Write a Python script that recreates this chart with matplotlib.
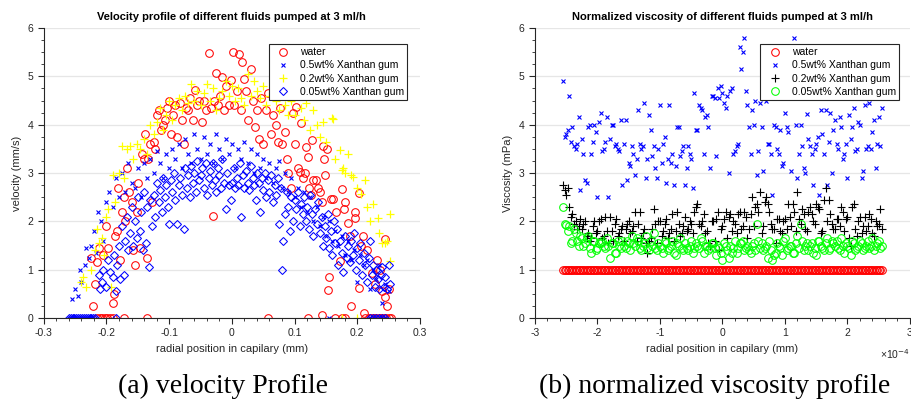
import numpy as np
import matplotlib.pyplot as plt
from matplotlib.ticker import MultipleLocator, FuncFormatter

plt.rcParams['font.family'] = ['Liberation Sans', 'DejaVu Sans']

# ---- (a) velocity profile: (radial position mm, velocity mm/s) ----
water_v = [
    (-0.215, 0), (-0.211, 0), (-0.207, 0), (-0.203, 0), (-0.199, 0), (-0.195, 0), (-0.19, 0),
    (-0.172, 0), (-0.135, 0), (0.058, 0), (0.122, 0), (0.165, 0), (0.175, 0), (0.18, 0),
    (0.213, 0), (0.218, 0), (0.222, 0), (0.226, 0), (0.23, 0), (0.234, 0), (0.238, 0),
    (0.242, 0), (0.246, 0), (0.25, 0), (0.253, 0), (0.144, 0.07),
    (-0.222, 0.25), (-0.224, 1.25), (-0.218, 0.7), (-0.215, 1.15), (-0.212, 1.45), (-0.205, 1.3),
    (-0.2, 1.9), (-0.198, 1.45), (-0.19, 0.3), (-0.188, 0.5), (-0.186, 1.7), (-0.183, 1.8),
    (-0.182, 2.7), (-0.178, 1.2), (-0.176, 2.2), (-0.172, 2.5), (-0.17, 2.0), (-0.168, 3.1),
    (-0.164, 2.6), (-0.16, 2.4), (-0.157, 1.4), (-0.155, 1.1), (-0.152, 2.2), (-0.15, 2.8),
    (-0.146, 1.45), (-0.143, 3.4), (-0.14, 3.3), (-0.138, 3.8), (-0.135, 1.25), (-0.133, 3.3),
    (-0.13, 3.6), (-0.127, 2.4), (-0.125, 3.65), (-0.122, 3.5), (-0.12, 4.2), (-0.117, 4.3),
    (-0.113, 3.9), (-0.11, 4.0), (-0.107, 4.1), (-0.104, 4.35), (-0.1, 4.5), (-0.097, 3.8),
    (-0.094, 4.2), (-0.09, 4.4), (-0.087, 3.75), (-0.083, 4.45), (-0.08, 4.1), (-0.076, 3.6),
    (-0.073, 4.35), (-0.07, 4.3), (-0.066, 4.55), (-0.062, 4.1), (-0.059, 4.72), (-0.055, 4.4),
    (-0.052, 4.5), (-0.048, 4.05), (-0.045, 4.5), (-0.041, 4.3), (-0.037, 5.48), (-0.034, 4.35),
    (-0.03, 2.12), (-0.028, 4.5), (-0.026, 5.07), (-0.022, 4.4), (-0.019, 4.6), (-0.016, 4.98),
    (-0.013, 4.3), (-0.009, 4.8), (-0.005, 4.4), (-0.002, 4.93), (0.001, 5.5), (0.004, 4.4),
    (0.008, 4.7), (0.011, 5.46), (0.014, 4.3), (0.016, 5.3), (0.019, 4.95), (0.022, 4.7),
    (0.026, 4.1), (0.03, 5.15), (0.033, 4.5), (0.037, 3.95), (0.04, 4.3), (0.043, 3.7),
    (0.046, 4.55), (0.05, 3.6), (0.054, 4.3), (0.058, 4.65), (0.062, 3.8), (0.066, 4.2),
    (0.07, 4.0), (0.073, 3.65), (0.077, 4.35), (0.08, 3.6), (0.084, 3.85), (0.088, 3.3),
    (0.09, 3.0), (0.094, 2.7), (0.097, 4.24), (0.1, 3.6), (0.103, 4.36), (0.106, 3.1),
    (0.108, 3.02), (0.111, 4.03), (0.113, 2.9), (0.116, 3.0), (0.119, 3.54), (0.121, 3.33),
    (0.123, 2.7), (0.126, 2.55), (0.128, 3.68), (0.13, 2.85), (0.134, 2.86), (0.137, 2.69),
    (0.14, 2.6), (0.143, 2.4), (0.145, 3.56), (0.147, 3.3), (0.148, 2.96), (0.151, 3.5),
    (0.153, 0.58), (0.155, 0.85), (0.158, 2.46), (0.162, 2.46), (0.166, 2.2), (0.172, 1.18),
    (0.175, 2.67), (0.179, 2.25), (0.18, 2.4), (0.185, 1.96), (0.188, 1.7), (0.19, 0.25),
    (0.196, 2.19), (0.197, 2.06), (0.202, 2.58), (0.202, 0.62), (0.206, 1.5), (0.209, 1.7),
    (0.21, 0.1), (0.215, 1.4), (0.223, 0.93), (0.228, 0.7), (0.232, 1.2), (0.236, 1.0),
    (0.24, 0.55), (0.244, 1.63), (0.245, 0.44), (0.247, 0.25), (0.25, 0.6),
]

xg05_v = [
    (-0.26, 0), (-0.257, 0), (-0.254, 0), (-0.251, 0), (-0.248, 0), (-0.245, 0), (-0.242, 0),
    (-0.239, 0), (-0.236, 0), (-0.233, 0), (-0.23, 0), (-0.227, 0), (-0.224, 0), (0.155, 0),
    (0.22, 0), (0.228, 0), (0.236, 0), (0.244, 0),
    (-0.255, 0.4), (-0.25, 0.6), (-0.245, 0.45), (-0.243, 1.0), (-0.24, 0.75), (-0.235, 1.1),
    (-0.232, 1.45), (-0.228, 1.25), (-0.225, 1.5), (-0.22, 1.8), (-0.216, 1.35), (-0.213, 2.2),
    (-0.208, 2.0), (-0.205, 1.6), (-0.2, 2.4), (-0.196, 2.6), (-0.19, 2.3), (-0.185, 2.9),
    (-0.18, 2.5), (-0.175, 3.0), (-0.17, 2.6), (-0.165, 3.2), (-0.16, 2.8), (-0.155, 2.7),
    (-0.15, 3.1), (-0.145, 2.5), (-0.14, 3.2), (-0.135, 2.9), (-0.13, 3.3), (-0.125, 3.0),
    (-0.12, 3.45), (-0.115, 3.2), (-0.11, 2.9), (-0.105, 3.4), (-0.1, 3.1), (-0.095, 3.5),
    (-0.09, 3.3), (-0.085, 3.6), (-0.08, 3.1), (-0.075, 3.7), (-0.07, 3.4), (-0.065, 3.2),
    (-0.06, 3.8), (-0.055, 3.5), (-0.05, 3.3), (-0.045, 3.75), (-0.04, 3.4), (-0.035, 3.6),
    (-0.03, 3.2), (-0.025, 3.8), (-0.02, 3.5), (-0.015, 3.3), (-0.01, 3.7), (-0.005, 3.4),
    (0.0, 3.6), (0.005, 3.1), (0.01, 3.5), (0.015, 3.3), (0.02, 3.65), (0.025, 3.2),
    (0.03, 3.5), (0.035, 3.0), (0.04, 3.4), (0.045, 3.1), (0.05, 3.3), (0.055, 2.9),
    (0.06, 3.2), (0.065, 2.8), (0.07, 3.1), (0.075, 3.25), (0.08, 2.7), (0.085, 3.0),
    (0.09, 2.6), (0.095, 2.9), (0.1, 2.5), (0.105, 2.7), (0.11, 2.3), (0.115, 2.6),
    (0.12, 2.2), (0.125, 2.5), (0.13, 2.0), (0.135, 2.3), (0.14, 1.9), (0.145, 2.1),
    (0.15, 1.7), (0.155, 2.0), (0.16, 1.6), (0.165, 1.8), (0.17, 1.5), (0.175, 1.7),
    (0.18, 1.3), (0.185, 1.6), (0.19, 1.2), (0.195, 1.4), (0.2, 0.75), (0.205, 1.3),
    (0.21, 1.1), (0.215, 1.2), (0.22, 0.6), (0.225, 1.0), (0.23, 0.8), (0.235, 1.1),
    (0.24, 0.3), (0.245, 0.7), (0.25, 0.55),
]

xg02_v = [
    (-0.24, 0.75), (-0.237, 0.85), (-0.232, 0.65), (-0.225, 1.0), (-0.218, 1.4), (-0.215, 1.85),
    (-0.212, 1.55), (-0.207, 1.65), (-0.204, 1.3), (-0.2, 2.1), (-0.197, 2.25), (-0.193, 0.65),
    (-0.19, 2.95), (-0.186, 2.4), (-0.18, 3.0), (-0.176, 3.55), (-0.172, 2.9), (-0.168, 3.5),
    (-0.163, 3.55), (-0.158, 3.3), (-0.152, 3.6), (-0.146, 3.5), (-0.14, 3.7), (-0.135, 3.4),
    (-0.13, 4.0), (-0.125, 3.8), (-0.12, 4.05), (-0.115, 4.35), (-0.11, 3.9), (-0.105, 4.2),
    (-0.1, 4.5), (-0.095, 4.1), (-0.09, 4.4), (-0.085, 4.55), (-0.08, 4.3), (-0.075, 4.6),
    (-0.07, 4.45), (-0.065, 4.85), (-0.06, 4.5), (-0.055, 4.7), (-0.05, 4.4), (-0.045, 4.65),
    (-0.04, 4.85), (-0.035, 4.5), (-0.03, 4.75), (-0.025, 4.3), (-0.02, 4.55), (-0.015, 4.7),
    (-0.01, 4.9), (-0.005, 4.6), (0.0, 4.8), (0.005, 4.5), (0.01, 4.75), (0.015, 4.55),
    (0.02, 4.4), (0.025, 5.05), (0.03, 4.6), (0.035, 4.9), (0.04, 4.7), (0.045, 4.55),
    (0.05, 4.8), (0.055, 4.4), (0.06, 4.6), (0.065, 4.75), (0.07, 4.5), (0.075, 4.3),
    (0.08, 4.6), (0.085, 4.4), (0.09, 4.2), (0.095, 4.5), (0.1, 4.2), (0.105, 4.7),
    (0.11, 4.35), (0.115, 4.1), (0.119, 4.44), (0.125, 3.9), (0.13, 4.3), (0.135, 4.0),
    (0.14, 3.75), (0.145, 4.05), (0.15, 3.65), (0.159, 4.13), (0.161, 4.12), (0.165, 3.3),
    (0.172, 3.48), (0.175, 3.06), (0.177, 3.1), (0.18, 3.0), (0.185, 3.4), (0.19, 2.95),
    (0.193, 2.91), (0.2, 2.7), (0.206, 2.57), (0.212, 2.86), (0.215, 2.3), (0.22, 2.0),
    (0.225, 2.35), (0.233, 2.06), (0.235, 1.75), (0.24, 1.55), (0.244, 1.55), (0.252, 2.15),
    (0.252, 1.18), (0.248, 1.6), (0.2, 0.0), (0.175, 0.0),
]

xg005_v = [
    (-0.26, 0), (-0.257, 0), (-0.254, 0), (-0.251, 0), (-0.248, 0), (-0.245, 0), (-0.242, 0),
    (-0.239, 0), (-0.236, 0), (-0.233, 0), (-0.23, 0), (-0.227, 0), (-0.224, 0), (-0.221, 0),
    (-0.218, 0), (-0.185, 0), (0.22, 0), (0.225, 0), (0.23, 0), (0.235, 0), (0.24, 0), (0.245, 0),
    (-0.212, 0.9), (-0.21, 0.6), (-0.207, 0.75), (-0.205, 1.0), (-0.2, 0.65), (-0.198, 1.2),
    (-0.195, 0.95), (-0.19, 0.85), (-0.188, 1.3), (-0.185, 0.55), (-0.183, 1.1), (-0.18, 1.5),
    (-0.178, 0.8), (-0.175, 1.9), (-0.172, 0.9), (-0.17, 1.6), (-0.167, 2.1), (-0.165, 1.4),
    (-0.162, 1.75), (-0.16, 2.3), (-0.157, 1.5), (-0.155, 2.0), (-0.152, 1.65), (-0.15, 2.5),
    (-0.147, 1.8), (-0.145, 2.2), (-0.142, 1.4), (-0.14, 2.6), (-0.137, 1.55), (-0.135, 2.3),
    (-0.132, 1.05), (-0.13, 2.45), (-0.127, 1.9), (-0.125, 2.55), (-0.122, 2.1), (-0.12, 2.8),
    (-0.117, 2.4), (-0.115, 2.65), (-0.112, 2.2), (-0.11, 2.9), (-0.107, 2.5), (-0.105, 2.75),
    (-0.102, 2.3), (-0.1, 1.95), (-0.097, 2.85), (-0.095, 2.6), (-0.092, 3.0), (-0.09, 2.45),
    (-0.087, 1.95), (-0.085, 2.75), (-0.082, 2.9), (-0.08, 2.55), (-0.077, 1.85), (-0.075, 3.1),
    (-0.072, 2.7), (-0.07, 2.95), (-0.067, 2.5), (-0.065, 3.15), (-0.062, 2.8), (-0.06, 3.0),
    (-0.057, 2.6), (-0.055, 3.25), (-0.052, 2.85), (-0.05, 2.95), (-0.047, 3.1), (-0.045, 2.7),
    (-0.042, 3.2), (-0.04, 2.55), (-0.037, 2.9), (-0.035, 3.05), (-0.032, 2.75), (-0.03, 3.2),
    (-0.027, 2.85), (-0.025, 2.6), (-0.022, 3.1), (-0.02, 2.95), (-0.017, 2.7), (-0.015, 3.3),
    (-0.012, 2.8), (-0.01, 2.25), (-0.007, 3.0), (-0.005, 2.75), (-0.002, 2.45), (0.0, 2.8),
    (0.003, 3.1), (0.005, 2.7), (0.008, 2.9), (0.01, 2.75), (0.013, 3.2), (0.015, 2.08),
    (0.018, 2.95), (0.02, 2.7), (0.023, 3.05), (0.025, 2.8), (0.028, 2.65), (0.03, 3.15),
    (0.033, 2.9), (0.035, 2.75), (0.038, 2.45), (0.04, 3.0), (0.043, 2.8), (0.045, 2.2),
    (0.048, 2.9), (0.05, 2.65), (0.053, 3.0), (0.055, 2.5), (0.058, 2.85), (0.06, 2.6),
    (0.063, 2.95), (0.065, 2.4), (0.068, 2.75), (0.07, 2.55), (0.073, 2.9), (0.075, 1.95),
    (0.078, 2.7), (0.08, 1.0), (0.082, 1.6), (0.085, 2.15), (0.088, 2.6), (0.09, 2.3),
    (0.093, 1.8), (0.095, 2.5), (0.098, 2.0), (0.1, 2.45), (0.103, 2.25), (0.105, 2.6),
    (0.108, 1.9), (0.11, 2.35), (0.113, 2.15), (0.115, 2.5), (0.118, 2.0), (0.12, 2.3),
    (0.123, 1.85), (0.125, 2.55), (0.128, 2.15), (0.13, 1.7), (0.133, 2.25), (0.135, 1.95),
    (0.138, 2.4), (0.14, 1.75), (0.143, 2.1), (0.145, 1.5), (0.148, 1.9), (0.15, 1.65),
    (0.153, 2.15), (0.155, 1.45), (0.158, 1.8), (0.16, 1.3), (0.163, 2.0), (0.165, 1.55),
    (0.168, 1.85), (0.17, 1.1), (0.173, 1.6), (0.175, 1.35), (0.178, 0.95), (0.18, 1.7),
    (0.183, 1.25), (0.185, 1.5), (0.188, 1.15), (0.19, 1.6), (0.193, 1.3), (0.195, 1.75),
    (0.198, 1.0), (0.2, 1.45), (0.203, 1.2), (0.205, 1.55), (0.208, 0.9), (0.21, 1.35),
    (0.213, 1.1), (0.215, 0.75), (0.218, 1.25), (0.22, 1.6), (0.223, 0.9), (0.225, 1.1),
    (0.228, 0.65), (0.23, 1.0), (0.233, 0.8), (0.235, 0.6), (0.238, 0.9), (0.24, 1.05),
    (0.243, 0.65), (0.245, 0.85), (0.248, 0.6), (0.25, 1.1), (0.252, 0.7),
]

# ---- (b) normalized viscosity: radial position in units of 1e-4 mm ----
# two interleaved sampling grids
r_b = [
    -2.55, -2.50, -2.45, -2.40, -2.35, -2.30, -2.25, -2.20, -2.15, -2.10,
    -2.05, -2.00, -1.95, -1.90, -1.85, -1.80, -1.75, -1.70, -1.65, -1.60,
    -1.55, -1.50, -1.45, -1.40, -1.35, -1.30, -1.25, -1.20, -1.15, -1.10,
    -1.05, -1.00, -0.95, -0.90, -0.85, -0.80, -0.75, -0.70, -0.65, -0.60,
    -0.55, -0.50, -0.45, -0.40, -0.35, -0.30, -0.25, -0.20, -0.15, -0.10,
    -0.05, 0.00, 0.05, 0.10, 0.15, 0.20, 0.25, 0.30, 0.35, 0.40,
    0.45, 0.50, 0.55, 0.60, 0.65, 0.70, 0.75, 0.80, 0.85, 0.90,
    0.95, 1.00, 1.05, 1.10, 1.15, 1.20, 1.25, 1.30, 1.35, 1.40,
    1.45, 1.50, 1.55, 1.60, 1.65, 1.70, 1.75, 1.80, 1.85, 1.90,
    1.95, 2.00, 2.05, 2.10, 2.15, 2.20, 2.25, 2.30, 2.35, 2.40,
    2.45, 2.50, 2.55,
]
r_b2 = [
    -2.525, -2.475, -2.425, -2.375, -2.325, -2.275, -2.225, -2.175, -2.125, -2.075,
    -2.025, -1.975, -1.925, -1.875, -1.825, -1.775, -1.725, -1.675, -1.625, -1.575,
    -1.525, -1.475, -1.425, -1.375, -1.325, -1.275, -1.225, -1.175, -1.125, -1.075,
    -1.025, -0.975, -0.925, -0.875, -0.825, -0.775, -0.725, -0.675, -0.625, -0.575,
    -0.525, -0.475, -0.425, -0.375, -0.325, -0.275, -0.225, -0.175, -0.125, -0.075,
    -0.025, 0.025, 0.075, 0.125, 0.175, 0.225, 0.275, 0.325, 0.375, 0.425,
    0.475, 0.525, 0.575, 0.625, 0.675, 0.725, 0.775, 0.825, 0.875, 0.925,
    0.975, 1.025, 1.075, 1.125, 1.175, 1.225, 1.275, 1.325, 1.375, 1.425,
    1.475, 1.525, 1.575, 1.625, 1.675, 1.725, 1.775, 1.825, 1.875, 1.925,
    1.975, 2.025, 2.075, 2.125, 2.175, 2.225, 2.275, 2.325, 2.375, 2.425,
    2.475, 2.525,
]
visc_water = [1.0] * len(r_b)
visc_water2 = [1.0] * len(r_b2)
visc_05 = [
    4.9, 3.8, 4.6, 3.95, 3.5, 4.15, 3.7, 2.85, 3.95, 3.4,
    4.0, 2.5, 4.25, 3.5, 4.15, 3.7, 4.0, 3.6, 3.45, 2.75,
    4.1, 3.2, 3.55, 2.95, 4.3, 3.5, 4.45, 3.3, 3.9, 3.55,
    2.9, 4.4, 3.6, 2.8, 4.4, 3.4, 3.15, 3.95, 3.45, 2.75,
    3.55, 3.3, 4.65, 3.9, 4.35, 3.4, 4.2, 3.1, 4.6, 3.35,
    4.55, 4.65, 4.35, 3.0, 4.75, 3.45, 3.6, 5.15, 5.8, 4.4,
    3.4, 4.0, 2.95, 4.45, 3.05, 4.5, 3.6, 2.55, 3.95, 3.4,
    3.15, 4.25, 3.85, 3.05, 5.8, 2.9, 4.0, 3.1, 4.22, 3.55,
    2.75, 3.6, 2.55, 3.8, 4.3, 3.65, 3.0, 4.1, 3.5, 3.95,
    3.4, 2.9, 3.7, 4.35, 3.5, 4.0, 3.05, 3.5, 4.45, 3.85,
    3.1, 4.15, 4.35,
]
visc_05b = [
    3.75, 3.9, 3.65, 3.55, 3.6, 2.65, 3.4, 2.8, 4.0, 3.65,
    3.85, 4.05, 3.45, 3.65, 2.5, 4.0, 3.55, 3.5, 4.1, 3.6,
    2.85, 3.15, 3.4, 3.3, 3.6, 3.55, 2.9, 4.2, 3.35, 3.1,
    3.5, 3.2, 3.75, 3.3, 3.2, 2.75, 3.95, 3.35, 3.55, 3.1,
    3.4, 2.7, 3.9, 4.4, 4.3, 4.15, 3.95, 4.6, 4.55, 4.75,
    4.8, 4.45, 4.6, 4.7, 3.4, 3.55, 5.6, 5.5, 4.7, 3.95,
    4.3, 4.5, 3.45, 3.95, 4.6, 3.6, 3.4, 4.0, 3.5, 3.9,
    3.2, 3.95, 4.6, 4.8, 4.0, 3.4, 3.55, 3.0, 3.7, 3.4,
    3.5, 3.75, 4.3, 3.4, 2.75, 4.25, 3.9, 3.6, 4.15, 3.3,
    3.6, 4.2, 3.95, 3.45, 4.05, 2.9, 4.4, 3.55, 3.5, 4.1,
    3.6, 3.55,
]
visc_02 = [
    2.75, 2.55, 2.3, 2.15, 2.0, 1.9, 1.85, 2.0, 1.75, 1.65,
    2.0, 1.8, 2.05, 1.7, 1.8, 2.1, 1.6, 2.05, 1.75, 1.9,
    1.85, 2.0, 1.8, 2.2, 1.95, 1.65, 1.85, 1.35, 1.65, 2.25,
    1.55, 2.0, 1.8, 2.05, 1.75, 2.15, 1.8, 1.95, 1.75, 2.1,
    1.85, 1.95, 2.2, 2.35, 1.9, 2.15, 1.8, 1.5, 2.0, 2.05,
    1.4, 1.9, 2.2, 2.1, 1.8, 1.95, 2.15, 1.85, 2.2, 1.65,
    2.15, 1.9, 2.35, 2.6, 1.9, 2.5, 2.2, 1.85, 1.55, 2.05,
    1.75, 2.05, 2.35, 1.9, 2.2, 2.6, 1.95, 2.15, 1.8, 2.3,
    2.0, 2.35, 2.25, 1.8, 2.7, 2.45, 1.95, 1.85, 2.05, 2.3,
    1.8, 2.1, 1.5, 2.35, 1.7, 2.1, 1.9, 1.8, 2.15, 1.75,
    2.0, 1.95, 1.85,
]
visc_02b = [
    2.65, 2.7, 2.1, 1.95, 1.85, 2.05, 1.95, 1.7, 1.6, 1.9,
    1.75, 2.0, 1.65, 2.1, 1.55, 1.8, 1.95, 1.7, 1.85, 1.6,
    1.95, 1.75, 1.9, 1.6, 2.2, 1.75, 1.55, 1.6, 1.85, 1.95,
    2.0, 1.7, 1.95, 1.65, 1.85, 1.6, 2.2, 1.7, 1.9, 1.8,
    2.0, 1.75, 2.3, 1.95, 2.0, 1.75, 1.55, 2.0, 1.6, 2.2,
    1.85, 2.05, 1.65, 2.15, 2.0, 1.75, 2.2, 1.9, 2.1, 1.85,
    2.5, 2.3, 2.2, 1.75, 2.4, 2.35, 1.95, 1.85, 2.05, 1.8,
    2.0, 1.85, 2.1, 2.35, 1.8, 2.05, 2.25, 1.85, 2.2, 2.15,
    1.95, 2.3, 1.75, 2.45, 2.0, 2.15, 1.85, 2.05, 1.9, 2.2,
    2.05, 1.65, 2.3, 1.85, 2.0, 1.75, 2.1, 1.9, 2.05, 1.7,
    1.9, 2.25,
]
visc_005 = [
    2.3, 1.92, 1.9, 1.6, 1.75, 1.5, 1.65, 1.55, 1.7, 1.35,
    1.6, 1.45, 1.55, 1.5, 1.65, 1.25, 1.55, 1.35, 1.5, 1.6,
    1.45, 1.55, 1.7, 1.5, 1.6, 1.4, 1.55, 1.45, 1.6, 1.75,
    1.4, 1.5, 1.35, 1.55, 1.45, 1.6, 1.3, 1.5, 1.45, 1.55,
    1.4, 1.6, 1.45, 1.5, 1.65, 1.35, 1.5, 1.45, 1.55, 1.3,
    1.45, 1.2, 1.5, 1.25, 1.35, 1.6, 1.45, 1.55, 1.4, 1.5,
    1.35, 1.55, 1.95, 1.45, 1.4, 1.5, 1.6, 1.2, 1.35, 1.5,
    1.3, 1.65, 1.45, 1.5, 1.35, 1.7, 1.95, 1.4, 1.55, 1.5,
    1.35, 1.3, 1.6, 1.45, 1.55, 1.4, 1.6, 1.5, 1.45, 1.65,
    1.35, 1.5, 1.3, 1.55, 1.45, 1.6, 1.4, 1.5, 1.45, 1.65,
    1.5, 1.6, 1.5,
]
visc_005b = [
    1.95, 1.8, 1.55, 1.85, 1.6, 1.7, 1.5, 1.65, 1.45, 1.6,
    1.4, 1.55, 1.6, 1.45, 1.5, 1.55, 1.35, 1.6, 1.45, 1.5,
    1.6, 1.4, 1.55, 1.65, 1.45, 1.5, 1.7, 1.4, 1.5, 1.45,
    1.55, 1.45, 1.6, 1.4, 1.5, 1.35, 1.55, 1.65, 1.4, 1.45,
    1.5, 1.35, 1.55, 1.45, 1.6, 1.5, 1.4, 1.55, 1.45, 1.5,
    1.35, 1.55, 1.4, 1.5, 1.45, 1.35, 1.55, 1.6, 1.45, 1.4,
    1.5, 1.4, 1.6, 1.55, 1.45, 1.25, 1.4, 1.3, 1.55, 1.45,
    1.6, 1.4, 1.5, 1.35, 1.55, 1.45, 1.6, 1.5, 1.4, 1.55,
    1.45, 1.6, 1.5, 1.4, 1.65, 1.45, 1.55, 1.6, 1.4, 1.5,
    1.55, 1.45, 1.6, 1.4, 1.5, 1.55, 1.45, 1.6, 1.5, 1.4,
    1.55, 1.45,
]

labels = ['water', '0.5wt% Xanthan gum', '0.2wt% Xanthan gum', '0.05wt% Xanthan gum']

fig = plt.figure(figsize=(9.12, 4.09), dpi=100)
ax1 = fig.add_axes([0.048, 0.2225, 0.4125, 0.709])
ax2 = fig.add_axes([0.5866, 0.2225, 0.4112, 0.709])


def plain(v, pos):
    v = round(v, 6)
    if v == 0:
        return '0'
    return f'{v:g}'


def plain_e4(v, pos):
    return plain(v * 1e4, pos)


def style(ax):
    for s in ['top', 'right']:
        ax.spines[s].set_visible(False)
    for s in ['left', 'bottom']:
        ax.spines[s].set_color('#262626')
        ax.spines[s].set_linewidth(0.8)
    ax.tick_params(which='both', direction='out', colors='#262626', labelsize=7.5)
    ax.tick_params(which='major', length=4, width=0.8)
    ax.tick_params(which='minor', length=2.5, width=0.6)
    ax.yaxis.set_major_locator(MultipleLocator(1))
    ax.yaxis.set_minor_locator(MultipleLocator(0.25))
    ax.yaxis.set_major_formatter(FuncFormatter(plain))
    ax.set_ylim(0, 6)
    ax.grid(axis='y', which='major', color='#e6e6e6', linewidth=0.9)
    ax.set_axisbelow(True)


def legend(ax, x):
    leg = ax.legend(loc='upper right', bbox_to_anchor=(x, 0.962), fontsize=7.5,
                    fancybox=False, edgecolor='#262626', framealpha=1,
                    borderpad=0.3, labelspacing=0.3, handletextpad=0.5, handlelength=2.2)
    leg.get_frame().set_linewidth(0.8)


# left panel
style(ax1)
arrs = [np.array(p).T for p in (water_v, xg05_v, xg02_v, xg005_v)]
ax1.plot(arrs[0][0], arrs[0][1], 'o', ms=5.5, mfc='none', mec='red', mew=0.75, label=labels[0])
ax1.plot(arrs[1][0], arrs[1][1], 'x', ms=3.5, mec='blue', mew=0.8, label=labels[1])
ax1.plot(arrs[2][0], arrs[2][1], '+', ms=6, mec='yellow', mew=0.9, label=labels[2])
ax1.plot(arrs[3][0], arrs[3][1], 'D', ms=4.5, mfc='none', mec='blue', mew=0.75, label=labels[3])
ax1.set_xlim(-0.3, 0.3)
ax1.xaxis.set_major_locator(MultipleLocator(0.1))
ax1.xaxis.set_minor_locator(MultipleLocator(0.02))
ax1.xaxis.set_major_formatter(FuncFormatter(plain))
ax1.set_xlabel('radial position in capilary (mm)', fontsize=8, color='#262626')
ax1.set_ylabel('velocity (mm/s)', fontsize=8, color='#262626')
ax1.set_title('Velocity profile of different fluids pumped at 3 ml/h',
              fontsize=8, fontweight='bold', pad=6)
legend(ax1, 0.98)

# right panel
style(ax2)
rb = np.array(r_b + r_b2) * 1e-4
ax2.plot(rb, visc_water + visc_water2, 'o', ms=5.5, mfc='none', mec='red', mew=0.75, label=labels[0])
ax2.plot(rb, visc_05 + visc_05b, 'x', ms=3.5, mec='blue', mew=0.8, label=labels[1])
ax2.plot(rb, visc_02 + visc_02b, '+', ms=6, mec='black', mew=0.8, label=labels[2])
ax2.plot(rb, visc_005 + visc_005b, 'o', ms=5.5, mfc='none', mec='#00ff00', mew=0.75, label=labels[3])
ax2.set_xlim(-3e-4, 3e-4)
ax2.xaxis.set_major_locator(MultipleLocator(1e-4))
ax2.xaxis.set_minor_locator(MultipleLocator(2e-5))
ax2.xaxis.set_major_formatter(FuncFormatter(plain_e4))
ax2.text(0.92, -0.125, '×10$^{-4}$', transform=ax2.transAxes, ha='left', va='center',
         fontsize=7.5, color='#262626')
ax2.set_xlabel('radial position in capilary (mm)', fontsize=8, color='#262626')
ax2.set_ylabel('Viscosity (mPa)', fontsize=8, color='#262626')
ax2.set_title('Normalized viscosity of different fluids pumped at 3 ml/h',
              fontsize=8, fontweight='bold', pad=6)
legend(ax2, 0.984)

fig.text(0.245, 0.054, '(a) velocity Profile', ha='center', va='center',
         fontsize=20, family='Liberation Serif')
fig.text(0.784, 0.054, '(b) normalized viscosity profile', ha='center', va='center',
         fontsize=20, family='Liberation Serif')

fig.savefig('out.png', dpi=100)
